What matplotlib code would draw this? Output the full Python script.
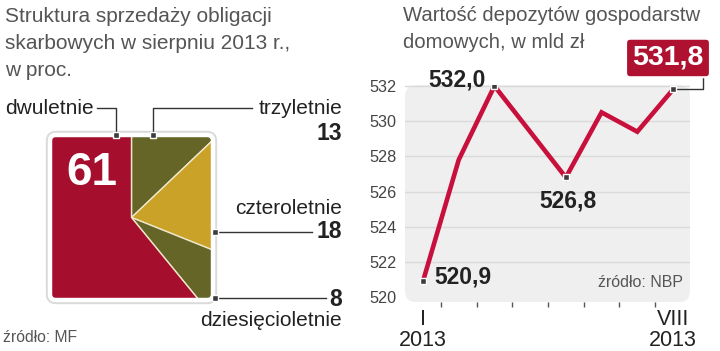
import matplotlib
matplotlib.use('Agg')
import matplotlib.pyplot as plt
from matplotlib.patches import FancyBboxPatch
import numpy as np

plt.rcParams['font.family'] = ['Liberation Sans', 'DejaVu Sans']

# ---------------- data ----------------
# left: structure of treasury bond sales, Aug 2013 (%), clockwise from top
bond_categories = ['trzyletnie', 'czteroletnie', 'dziesięcioletnie', 'dwuletnie']
bond_shares = [13, 18, 8, 61]
bond_colors = ['#646526', '#C9A227', '#646526', '#A50E2D']

# right: household deposits, bn zł
months = ['I', 'II', 'III', 'IV', 'V', 'VI', 'VII', 'VIII']
deposits = [520.9, 527.8, 532.0, 529.4, 526.8, 530.5, 529.4, 531.8]
year = '2013'
y_ticks = [520, 522, 524, 526, 528, 530, 532]

left_title = ['Struktura sprzedaży obligacji', 'skarbowych w sierpniu 2013 r.,', 'w proc.']
right_title = ['Wartość depozytów gospodarstw', 'domowych, w mld zł']
left_source = 'źródło: MF'
right_source = 'źródło: NBP'

def fmt(v):
    return f'{v:.1f}'.replace('.', ',')

# ---------------- figure ----------------
W, H = 720, 351
fig = plt.figure(figsize=(7.2, 3.51), dpi=100)
fig.patch.set_facecolor('white')

def fx(px):
    return px / W

def fy(py):
    return 1 - py / H

TITLE_C = '#555555'
DARK = '#222222'
NARROW = ['Liberation Sans Narrow', 'Liberation Sans', 'DejaVu Sans']

# ---------------- left: square pie ----------------
sq_l, sq_t, sq_r, sq_b = 50, 135, 213, 300
axp = fig.add_axes([fx(sq_l), fy(sq_b), (sq_r - sq_l) / W, (sq_b - sq_t) / H])
wedges, _ = axp.pie(bond_shares, colors=bond_colors, startangle=90,
                    counterclock=False, radius=3,
                    wedgeprops=dict(edgecolor='#f1e8cc', linewidth=1.0))
axp.set_aspect('auto')
axp.set_xlim(-1, 1)
axp.set_ylim(-1, 1)
axp.axis('off')
clip = FancyBboxPatch((-1, -1), 2, 2, boxstyle='round,pad=0,rounding_size=0.07',
                      transform=axp.transData)
for w in wedges:
    w.set_clip_on(True)
    w.set_clip_path(clip)
shadow = FancyBboxPatch((-1, -1), 2, 2, boxstyle='round,pad=0,rounding_size=0.07',
                        transform=axp.transData, fill=False, edgecolor='#dadada',
                        linewidth=6, clip_on=False, zorder=0)
axp.add_patch(shadow)
border = FancyBboxPatch((-1, -1), 2, 2, boxstyle='round,pad=0,rounding_size=0.07',
                        transform=axp.transData, fill=False, edgecolor='white',
                        linewidth=3.2, clip_on=False, zorder=5)
axp.add_patch(border)

# ---------------- right: line chart ----------------
ax2 = fig.add_axes([fx(405), fy(302.3), 285 / W, (302.3 - 85.1) / H])
x = np.arange(1, len(months) + 1)
ax2.set_xlim(0.496, 8.476)
ax2.set_ylim(519.7, 532.05)
ax2.patch.set_visible(False)
for s in ax2.spines.values():
    s.set_visible(False)
bg = FancyBboxPatch((0, 0), 1, 1, boxstyle='round,pad=0,rounding_size=0.04',
                    mutation_aspect=285 / 217, transform=ax2.transAxes,
                    facecolor='#efefef', edgecolor='none', zorder=0)
ax2.add_patch(bg)
for v in y_ticks[1:]:
    ax2.axhline(v, color='#dadada', lw=1.0, zorder=1)

ax2.plot(x, deposits, color='#C8103C', lw=3.3, zorder=3,
         solid_joinstyle='miter', solid_capstyle='butt')
idx = [0, 2, 4, 7]
ax2.plot(x[idx], np.array(deposits)[idx], ls='none', marker='s', ms=4.5,
         mfc='#3c3c3c', mec='white', mew=1.0, zorder=4)

ax2.set_yticks(y_ticks)
ax2.set_yticklabels([str(v) for v in y_ticks])
ax2.tick_params(axis='y', length=0, pad=6, labelsize=11.7, labelcolor='#444444')
ax2.set_xticks([1, 8])
ax2.set_xticklabels([f'{months[0]}\n{year}', f'{months[-1]}\n{year}'],
                    linespacing=1.0)
ax2.tick_params(axis='x', length=0, pad=5, labelsize=15.5, labelcolor=DARK)
ax2.set_xticks(x[:-1] + 0.5, minor=True)
ax2.tick_params(axis='x', which='minor', length=3.5, width=1, color='#555555',
                direction='out')

# value labels
bold = dict(fontsize=16.5, fontweight='bold', color=DARK)
ax2.annotate(fmt(deposits[2]), xy=(x[2], deposits[2]), xytext=(-6.5, 4.3),
             textcoords='offset points', ha='right', va='center', **bold)
ax2.annotate(fmt(deposits[4]), xy=(x[4], deposits[4]), xytext=(1.4, -17.3),
             textcoords='offset points', ha='center', va='center', **bold)
ax2.annotate(fmt(deposits[0]), xy=(x[0], deposits[0]), xytext=(7.9, 2.9),
             textcoords='offset points', ha='left', va='center', **bold)
ax2.annotate(fmt(deposits[7]), xy=(x[7], deposits[7]), xytext=(-3.6, 22.7),
             textcoords='offset points', ha='center', va='center',
             fontsize=20.5, fontweight='bold', color='white', zorder=6,
             bbox=dict(boxstyle='round,pad=0.22,rounding_size=0.15',
                       fc='#AF1230', ec='white', lw=1.5),
             annotation_clip=False)
# connector for last value box
ax2.plot([x[7], x[7] + 30 / 35.7, x[7] + 30 / 35.7],
         [deposits[7], deposits[7], deposits[7] + 13 / 17.6],
         color='#333333', lw=1.0, clip_on=False, zorder=2)
ax2.text(0.975, 0.09, right_source, transform=ax2.transAxes, ha='right',
         va='center', fontsize=11.5, color='#555555', zorder=5)

# ---------------- overlay (pixel coordinates) ----------------
ov = fig.add_axes([0, 0, 1, 1])
ov.set_xlim(0, W)
ov.set_ylim(H, 0)
ov.axis('off')

for i, line in enumerate(left_title):
    ov.text(5, 22 + 27 * i, line, fontsize=15, color=TITLE_C, va='baseline', ha='left')
for i, line in enumerate(right_title):
    ov.text(403, 21 + 27 * i, line, fontsize=14.6, color=TITLE_C, va='baseline', ha='left')

lc = '#333333'
mk = dict(ls='none', marker='s', ms=4.5, mfc='#3c3c3c', mec='white', mew=1.0, zorder=6)
# dwuletnie
ov.text(5, 108, bond_categories[3], fontsize=15, color=DARK, ha='left', va='center')
ov.plot([97, 116, 116], [108, 108, 135], color=lc, lw=1.0)
ov.plot([116], [135], **mk)
ov.text(92, 173, str(bond_shares[3]), fontsize=33, fontweight='bold', color='white',
        ha='center', va='center', family=NARROW)
# trzyletnie
ov.text(342, 108, bond_categories[0], fontsize=15, color=DARK, ha='right', va='center')
ov.text(342, 133, str(bond_shares[0]), fontsize=16.5, fontweight='bold', color=DARK,
        ha='right', va='center')
ov.plot([252, 153, 153], [108, 108, 135], color=lc, lw=1.0)
ov.plot([153], [135], **mk)
# czteroletnie
ov.text(342, 208, bond_categories[1], fontsize=15, color=DARK, ha='right', va='center')
ov.text(342, 232, str(bond_shares[1]), fontsize=16.5, fontweight='bold', color=DARK,
        ha='right', va='center')
ov.plot([215, 312], [232, 232], color=lc, lw=1.0)
ov.plot([215], [232], **mk)
# dziesięcioletnie
ov.text(342, 299, str(bond_shares[2]), fontsize=16.5, fontweight='bold', color=DARK,
        ha='right', va='center')
ov.text(342, 321, bond_categories[2], fontsize=15, color=DARK, ha='right', va='center')
ov.plot([215, 326], [298, 298], color=lc, lw=1.0)
ov.plot([215], [298], **mk)
# source
ov.text(3, 338, left_source, fontsize=11.3, color='#555555', ha='left', va='center')

fig.savefig('out.png', dpi=100, facecolor='white')
